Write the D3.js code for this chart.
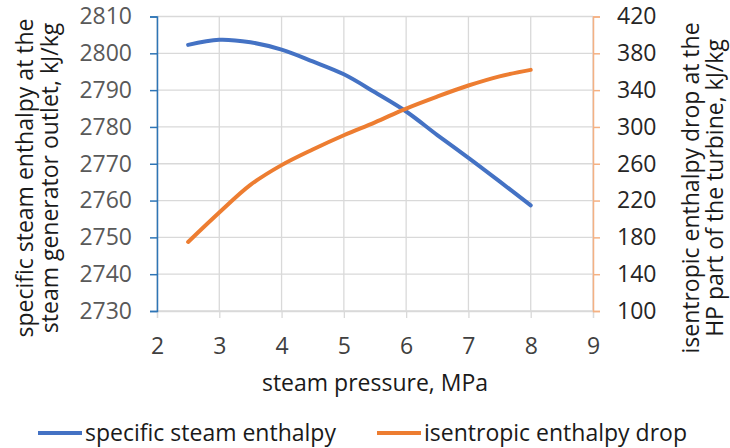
<!DOCTYPE html>
<html>
<head>
<meta charset="utf-8">
<script src="https://cdn.jsdelivr.net/npm/d3@7"></script>
<style>
  body { margin: 0; background: #fff; }
  text { font-family: "Open Sans", sans-serif; }
</style>
</head>
<body>
<div id="chart"></div>
<script>
// values
var pressure = [2.5, 3, 3.5, 4, 4.5, 5, 5.5, 6, 6.5, 7, 7.5, 8];
var enthalpy = [2802.3, 2803.7, 2803.0, 2801.0, 2797.8, 2794.3, 2789.4, 2784.2, 2777.8, 2771.6, 2765.2, 2758.7];
var enthalpyDrop = [175, 207, 237, 258.5, 275.5, 291, 305, 320, 333, 345, 355, 362];

var xTicks = [2, 3, 4, 5, 6, 7, 8, 9];
var leftTicks = [2730, 2740, 2750, 2760, 2770, 2780, 2790, 2800, 2810];
var rightTicks = [100, 140, 180, 220, 260, 300, 340, 380, 420];

var seriesNames = ["specific steam enthalpy", "isentropic enthalpy drop"];
var colors = ["#4472c4", "#ed7d31"];

var width = 730, height = 448;
// plot box (top/bottom renamed, window.top is read only)
var plotL = 157, plotR = 593, plotT = 16.5, plotB = 311;
var fs = 23;

var svg = d3.select("#chart").append("svg")
    .attr("width", width)
    .attr("height", height);

var xScale = d3.scaleLinear().domain([2, 9]).range([plotL, plotR]);
var yLeft = d3.scaleLinear().domain([2730, 2810]).range([plotB, plotT]);
var yRight = d3.scaleLinear().domain([100, 420]).range([plotB, plotT]);

// gridlines
svg.append("g").selectAll("line").data(leftTicks).enter()
    .append("line")
    .attr("x1", plotL).attr("x2", plotR)
    .attr("y1", function(d) { return yLeft(d); })
    .attr("y2", function(d) { return yLeft(d); })
    .attr("stroke", "#d9d9d9").attr("stroke-width", 1.3);

svg.append("g").selectAll("line").data(xTicks).enter()
    .append("line")
    .attr("x1", function(d) { return xScale(d); })
    .attr("x2", function(d) { return xScale(d); })
    .attr("y1", plotT).attr("y2", plotB)
    .attr("stroke", "#d9d9d9").attr("stroke-width", 1.3);

// x axis (bottom)
var xAxis = d3.axisBottom(xScale).tickValues(xTicks)
    .tickFormat(d3.format("d")).tickSize(7).tickPadding(20);
var gx = svg.append("g")
    .attr("transform", `translate(0, ${plotB})`)
    .call(xAxis);
gx.select(".domain").attr("stroke", "#d9d9d9").attr("stroke-width", 1.3);
gx.selectAll(".tick line").attr("stroke", "#d9d9d9").attr("stroke-width", 1.3);
gx.selectAll("text").attr("font-size", fs).attr("fill", "#404040")
    .attr("font-family", "Open Sans");

// left axis
var yAxisL = d3.axisLeft(yLeft).tickValues(leftTicks)
    .tickFormat(d3.format("d")).tickSize(7).tickPadding(18);
var gl = svg.append("g")
    .attr("transform", `translate(${plotL}, 0)`)
    .call(yAxisL);
gl.select(".domain").attr("stroke", "#2e75b6").attr("stroke-width", 1.5);
gl.selectAll(".tick line").attr("stroke", "#2e75b6").attr("stroke-width", 1.5);
gl.selectAll("text").attr("font-size", fs).attr("fill", "#595959")
    .attr("font-family", "Open Sans");

// right axis
var yAxisR = d3.axisRight(yRight).tickValues(rightTicks)
    .tickFormat(d3.format("d")).tickSize(7).tickPadding(17);
var gr = svg.append("g")
    .attr("transform", `translate(${plotR}, 0)`)
    .call(yAxisR);
gr.select(".domain").attr("stroke", "#f4b183").attr("stroke-width", 1.5);
gr.selectAll(".tick line").attr("stroke", "#f4b183").attr("stroke-width", 1.5);
gr.selectAll("text").attr("font-size", fs).attr("fill", "#262626")
    .attr("font-family", "Open Sans");

// lines, smoothed like the spreadsheet did
var lineL = d3.line()
    .x(function(d, i) { return xScale(pressure[i]); })
    .y(function(d) { return yLeft(d); })
    .curve(d3.curveCatmullRom.alpha(0.5));

var lineR = d3.line()
    .x(function(d, i) { return xScale(pressure[i]); })
    .y(function(d) { return yRight(d); })
    .curve(d3.curveCatmullRom.alpha(0.5));

svg.append("path").datum(enthalpy)
    .attr("d", lineL)
    .attr("fill", "none")
    .attr("stroke", colors[0])
    .attr("stroke-width", 4)
    .attr("stroke-linecap", "round");

svg.append("path").datum(enthalpyDrop)
    .attr("d", lineR)
    .attr("fill", "none")
    .attr("stroke", colors[1])
    .attr("stroke-width", 4)
    .attr("stroke-linecap", "round");

// axis titles
svg.append("text")
    .attr("x", (plotL + plotR) / 2).attr("y", 391)
    .attr("text-anchor", "middle")
    .attr("font-size", fs).attr("fill", "#1a1a1a")
    .text("steam pressure, MPa");

var leftTitle = svg.append("g")
    .attr("transform", "translate(0, 178) rotate(-90)");
leftTitle.append("text").attr("x", 0).attr("y", 33)
    .attr("text-anchor", "middle").attr("font-size", fs).attr("fill", "#1a1a1a")
    .text("specific steam enthalpy at the");
leftTitle.append("text").attr("x", 0).attr("y", 58)
    .attr("text-anchor", "middle").attr("font-size", fs).attr("fill", "#1a1a1a")
    .text("steam generator outlet, kJ/kg");

var rightTitle = svg.append("g")
    .attr("transform", "translate(0, 188) rotate(-90)");
rightTitle.append("text").attr("x", 0).attr("y", 699)
    .attr("text-anchor", "middle").attr("font-size", fs).attr("fill", "#1a1a1a")
    .text("isentropic enthalpy drop at the");
rightTitle.append("text").attr("x", 0).attr("y", 723)
    .attr("text-anchor", "middle").attr("font-size", fs).attr("fill", "#1a1a1a")
    .text("HP part of the turbine, kJ/kg");

// legend
var legendX = [38, 377];
var legend = svg.append("g").selectAll("g").data(seriesNames).enter()
    .append("g")
    .attr("transform", function(d, i) { return `translate(${legendX[i]}, 433)`; });
legend.append("line")
    .attr("x1", 0).attr("x2", 44)
    .attr("stroke", function(d, i) { return colors[i]; })
    .attr("stroke-width", 4);
legend.append("text")
    .attr("x", 47).attr("y", 8)
    .attr("font-size", fs).attr("fill", "#1a1a1a")
    .text(function(d) { return d; });
</script>
</body>
</html>
